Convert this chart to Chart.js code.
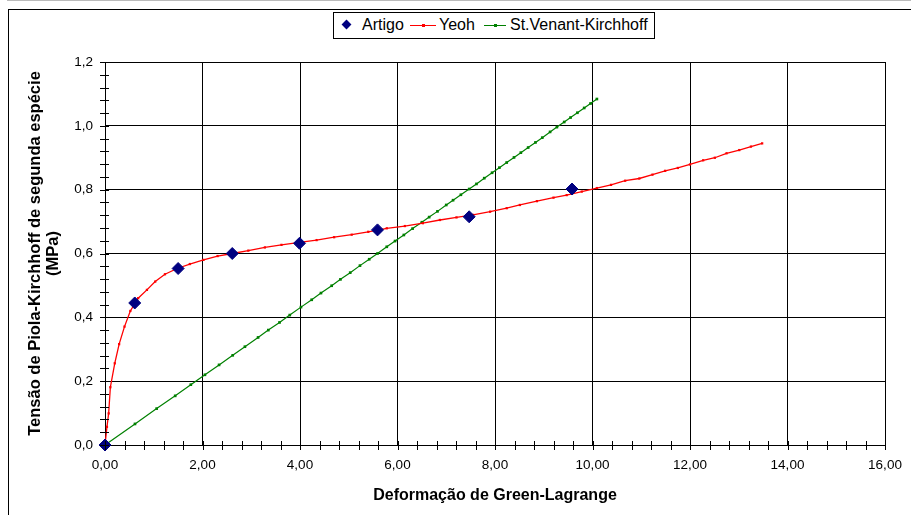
<!DOCTYPE html>
<html>
<head>
<meta charset="utf-8">
<script src="https://cdn.jsdelivr.net/npm/chart.js@4"></script>
<style>
  body { margin: 0; background: #fff; font-family: "Liberation Sans", Arial, sans-serif; }
  #wrap { position: relative; width: 911px; height: 515px; overflow: hidden; background: #fff; }
  #frame { position: absolute; left: 8px; top: 9px; width: 1000px; height: 1000px; border: 1px solid #000; }
  #topline { position: absolute; left: 7px; top: 0; width: 904px; height: 1px; background: #bbb; }
  canvas { position: absolute; left: 0; top: 0; }
  #legend { position: absolute; left: 333px; top: 12px; width: 320px; height: 25px; border: 1px solid #000; background: #fff; font-size: 16px; color: #000; }
  #legend span { position: absolute; top: 3px; white-space: nowrap; }
  .ln { position: absolute; top: 12px; height: 1px; }
  .dot { position: absolute; top: -1px; width: 3px; height: 3px; }
  .dia { position: absolute; left: 9px; top: 8px; width: 7px; height: 7px; background: #000080; transform: rotate(45deg); }
</style>
</head>
<body>
<div id="wrap">
  <div id="topline"></div>
  <div id="frame"></div>
  <canvas id="lineChart" width="911" height="515"></canvas>
  <div id="legend">
    <div class="dia"></div>
    <span style="left:28px">Artigo</span>
    <div class="ln" style="left:76px;width:26px;background:#ff0000"><div class="dot" style="left:12px;background:#ff0000"></div></div>
    <span style="left:105px">Yeoh</span>
    <div class="ln" style="left:150px;width:22px;background:#008000"><div class="dot" style="left:10px;background:#008000"></div></div>
    <span style="left:176px">St.Venant-Kirchhoff</span>
  </div>
</div>
<script>
// pontos do artigo
const artigoX = [0, 0.61, 1.50, 2.61, 3.99, 5.59, 7.47, 9.58];
const artigoY = [0, 0.445, 0.553, 0.600, 0.632, 0.674, 0.715, 0.802];

// modelo de Yeoh
const yeohX = [0, 0.04, 0.075, 0.11, 0.20, 0.29, 0.40, 0.52, 0.68, 0.86,
  1.03, 1.23, 1.48, 1.74, 2.02, 2.31, 2.61, 2.94, 3.28, 3.62,
  3.99, 4.34, 4.70, 5.06, 5.40, 5.78, 6.15, 6.52, 6.87, 7.21,
  7.55, 7.90, 8.24, 8.51, 8.86, 9.20, 9.47, 9.78, 10.09, 10.38,
  10.67, 10.96, 11.23, 11.49, 11.75, 12.00, 12.27, 12.51, 12.75, 13.01,
  13.25, 13.48];
const yeohY = [0, 0.057, 0.099, 0.181, 0.256, 0.316, 0.371, 0.420, 0.460, 0.486,
  0.512, 0.535, 0.553, 0.567, 0.580, 0.592, 0.600, 0.609, 0.619, 0.627,
  0.635, 0.642, 0.651, 0.659, 0.668, 0.679, 0.686, 0.695, 0.705, 0.713,
  0.721, 0.731, 0.742, 0.752, 0.764, 0.775, 0.783, 0.794, 0.805, 0.815,
  0.828, 0.835, 0.847, 0.859, 0.868, 0.879, 0.892, 0.900, 0.914, 0.924,
  0.935, 0.945];

// St.Venant-Kirchhoff
const svkX = [0, 0.615, 1.06, 1.44, 1.76, 2.05, 2.34, 2.62, 2.87, 3.14,
  3.35, 3.58, 3.79, 4.02, 4.24, 4.43, 4.65, 4.83, 5.03, 5.23,
  5.42, 5.59, 5.78, 5.95, 6.13, 6.31, 6.50, 6.65, 6.82, 7.00,
  7.14, 7.30, 7.47, 7.62, 7.78, 7.94, 8.09, 8.24, 8.39, 8.53,
  8.68, 8.83, 8.97, 9.13, 9.27, 9.42, 9.55, 9.69, 9.83, 9.96,
  10.09];
const svkY = [0, 0.066, 0.114, 0.154, 0.189, 0.220, 0.251, 0.281, 0.308, 0.337,
  0.360, 0.384, 0.407, 0.432, 0.455, 0.476, 0.499, 0.519, 0.540, 0.562,
  0.582, 0.600, 0.621, 0.639, 0.658, 0.678, 0.698, 0.714, 0.732, 0.752,
  0.767, 0.784, 0.802, 0.818, 0.836, 0.853, 0.869, 0.885, 0.901, 0.916,
  0.932, 0.948, 0.963, 0.981, 0.996, 1.012, 1.026, 1.041, 1.056, 1.070,
  1.084];

const xTickLabels = ['0,00', '2,00', '4,00', '6,00', '8,00', '10,00', '12,00', '14,00', '16,00'];
const yTickLabels = ['0,0', '0,2', '0,4', '0,6', '0,8', '1,0', '1,2'];

const xMajor = 2, xMinor = 0.4;
const yMajor = 0.2, yMinor = 0.04;

function pts(xs, ys) {
    let out = [];
    for (let i = 0; i < xs.length; i++) {
        out.push({ x: xs[i], y: ys[i] });
    }
    return out;
}

function isMajor(v, step) {
    return Math.abs(v / step - Math.round(v / step)) < 1e-6;
}

const font = '"Liberation Sans", Arial, sans-serif';

// marcas menores cruzando os eixos
const crossTicks = {
    id: 'crossTicks',
    afterDraw(chart) {
        const ctx = chart.ctx;
        const xs = chart.scales.x, ys = chart.scales.y;
        const area = chart.chartArea;
        ctx.save();
        ctx.strokeStyle = '#000';
        ctx.lineWidth = 1;
        ctx.beginPath();
        xs.ticks.forEach(t => {
            const px = Math.round(xs.getPixelForValue(t.value)) + 0.5;
            ctx.moveTo(px, area.bottom - 4);
            ctx.lineTo(px, area.bottom + 5);
        });
        ys.ticks.forEach(t => {
            const py = Math.round(ys.getPixelForValue(t.value)) + 0.5;
            ctx.moveTo(area.left - 5, py);
            ctx.lineTo(area.left + 4, py);
        });
        ctx.stroke();
        ctx.restore();
    }
};

const canvas = document.getElementById('lineChart');

new Chart(canvas, {
    type: 'scatter',
    data: {
        datasets: [{
            label: 'Artigo',
            data: pts(artigoX, artigoY),
            showLine: false,
            pointStyle: 'rectRot',
            pointRadius: 6,
            backgroundColor: '#000080',
            borderColor: '#000080',
            borderWidth: 1,
            clip: false
        }, {
            label: 'Yeoh',
            data: pts(yeohX, yeohY),
            showLine: true,
            tension: 0,
            borderColor: '#ff0000',
            backgroundColor: '#ff0000',
            borderWidth: 1.3,
            pointStyle: 'rect',
            pointRadius: 1.6,
            pointBorderWidth: 0,
            clip: false
        }, {
            label: 'St.Venant-Kirchhoff',
            data: pts(svkX, svkY),
            showLine: true,
            tension: 0,
            borderColor: '#008000',
            backgroundColor: '#008000',
            borderWidth: 1.2,
            pointStyle: 'rect',
            pointRadius: 1.9,
            pointBorderWidth: 0,
            clip: false
        }]
    },
    options: {
        responsive: false,
        animation: false,
        events: [],
        layout: { padding: { top: 62, right: 26, bottom: 0, left: 0 } },
        plugins: {
            legend: { display: false },
            tooltip: { enabled: false }
        },
        scales: {
            x: {
                type: 'linear',
                min: 0,
                max: 16,
                afterFit: s => { s.height = 70; s.paddingLeft = 0; s.paddingRight = 0; },
                ticks: {
                    stepSize: xMinor,
                    autoSkip: false,
                    maxRotation: 0,
                    padding: 12,
                    color: '#000',
                    font: { family: font, size: 13.5 },
                    callback: v => isMajor(v, xMajor) ? xTickLabels[Math.round(v / xMajor)] : ''
                },
                grid: {
                    drawTicks: false,
                    lineWidth: 1,
                    color: c => (c.tick && isMajor(c.tick.value, xMajor)) ? '#000' : 'rgba(0,0,0,0)'
                },
                border: { display: true, color: '#000', width: 1 },
                title: {
                    display: true,
                    text: 'Deformação de Green-Lagrange',
                    color: '#000',
                    font: { family: font, size: 16, weight: 'bold', lineHeight: 1.2 },
                    padding: { top: 0, bottom: 10 }
                }
            },
            y: {
                type: 'linear',
                min: 0,
                max: 1.2,
                afterFit: s => { s.width = 105; },
                ticks: {
                    stepSize: yMinor,
                    autoSkip: false,
                    padding: 12,
                    color: '#000',
                    font: { family: font, size: 13.5 },
                    callback: v => isMajor(v, yMajor) ? yTickLabels[Math.round(v / yMajor)] : ''
                },
                grid: {
                    drawTicks: false,
                    lineWidth: 1,
                    color: c => (c.tick && isMajor(c.tick.value, yMajor)) ? '#000' : 'rgba(0,0,0,0)'
                },
                border: { display: true, color: '#000', width: 1 },
                title: {
                    display: true,
                    text: ['Tensão de Piola-Kirchhoff de segunda espécie', '(MPa)'],
                    color: '#000',
                    font: { family: font, size: 16.5, weight: 'bold', lineHeight: 1.1 },
                    padding: { top: 26, bottom: 0 }
                }
            }
        }
    },
    plugins: [crossTicks]
});
</script>
</body>
</html>
